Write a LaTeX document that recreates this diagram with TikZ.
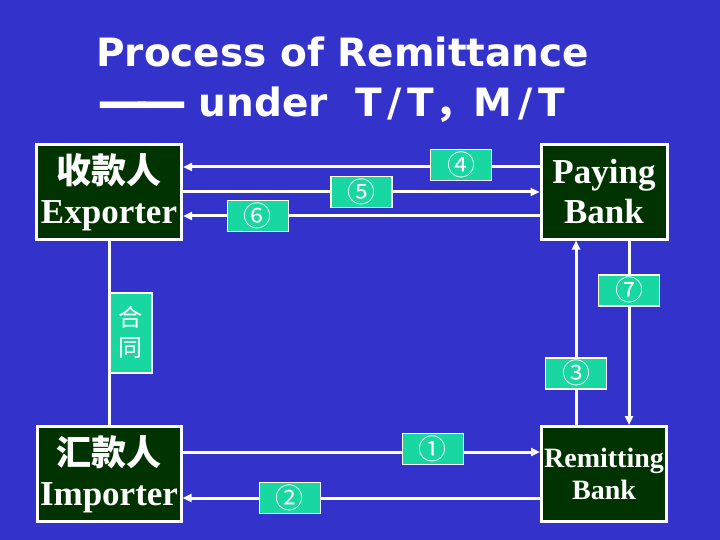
\documentclass[tikz,border=0pt]{standalone}
\usepackage{fontspec}
\usetikzlibrary{arrows.meta}
\newfontfamily\titlefont{DejaVu Sans}
\newfontfamily\boxfont{Liberation Serif}
\newfontfamily\cjk{Noto Sans CJK SC}
\definecolor{slideblue}{RGB}{51,51,204}
\definecolor{boxgreen}{RGB}{0,51,0}
\definecolor{tagteal}{RGB}{25,215,160}
\tikzset{>={Triangle[length=9pt,width=8pt]}}
\tikzset{
  party/.style={draw=white,line width=3pt,fill=boxgreen,text=white,
    align=center,inner sep=0pt,
    font=\boxfont\bfseries\fontsize{35}{40}\selectfont},
  flow/.style={draw=white,line width=3pt},
  tag/.style={draw=white,line width=1.5pt,fill=tagteal,text=white,
    minimum width=61pt,minimum height=31pt,inner sep=0pt,
    font=\cjk\fontsize{28}{28}\selectfont},
  heading/.style={anchor=base west,inner sep=0pt,text=white,
    font=\titlefont\bfseries\fontsize{39}{44}\selectfont}
}
\newcommand*{\wideslash}{\kern6pt/\kern6pt}

\begin{document}
\begin{tikzpicture}[x=1pt,y=-1pt]
\fill[slideblue] (0,0) rectangle (720,540);
\useasboundingbox (0,0) rectangle (720,540);

\node[heading] (title) at (96,67) {Process of Remittance};
\node[heading] (subtitle) at (97,117)
  {\raisebox{-3pt}{\fontsize{52}{52}\selectfont —\kern-14pt—}\kern-2pt{} under\ \ 
   T\wideslash T{\cjk ，}M\wideslash T};

\node[party,minimum width=145pt,minimum height=94pt] (exporter) at (109,192)
  {{\cjk 收款人}\\Exporter};
\node[party,minimum width=126pt,minimum height=94pt] (paying) at (604,192)
  {Paying\\Bank};
\node[party,minimum width=144pt,minimum height=95pt] (importer) at (109,474)
  {{\cjk 汇款人}\\Importer};
\node[party,minimum width=125pt,minimum height=95pt,
  font=\boxfont\bfseries\fontsize{28}{32}\selectfont] (remitting) at (604,474)
  {Remitting\\Bank};

\draw[flow,<-] ([yshift=25pt]exporter.east) -- ([yshift=25pt]paying.west)
  node[tag,pos=.78,yshift=2pt] (n4) {④};
\draw[flow,->] (exporter.east) -- (paying.west)
  node[tag,pos=.5] (n5) {⑤};
\draw[flow,<-] ([yshift=-24pt]exporter.east) -- ([yshift=-24pt]paying.west)
  node[tag,pos=.21] (n6) {⑥};

\draw[flow,->] ([yshift=22pt]importer.east) -- ([yshift=22pt]remitting.west)
  node[tag,pos=.70,yshift=3pt] (n1) {①};
\draw[flow,<-] ([yshift=-24pt]importer.east) -- ([yshift=-24pt]remitting.west)
  node[tag,pos=.30] (n2) {②};

\draw[flow,->] ([xshift=-28pt]remitting.north) -- ([xshift=-28pt]paying.south)
  node[tag,pos=.28] (n3) {③};
\draw[flow,->] ([xshift=25pt]paying.south) -- ([xshift=25pt]remitting.north)
  node[tag,pos=.27] (n7) {⑦};

\draw[flow] (exporter.south) -- (importer.north)
  node[tag,pos=.5,anchor=west,minimum width=42pt,minimum height=80pt,
    align=center,font=\cjk\fontsize{24}{30}\selectfont] (contract) {合\\同};
\end{tikzpicture}
\end{document}
